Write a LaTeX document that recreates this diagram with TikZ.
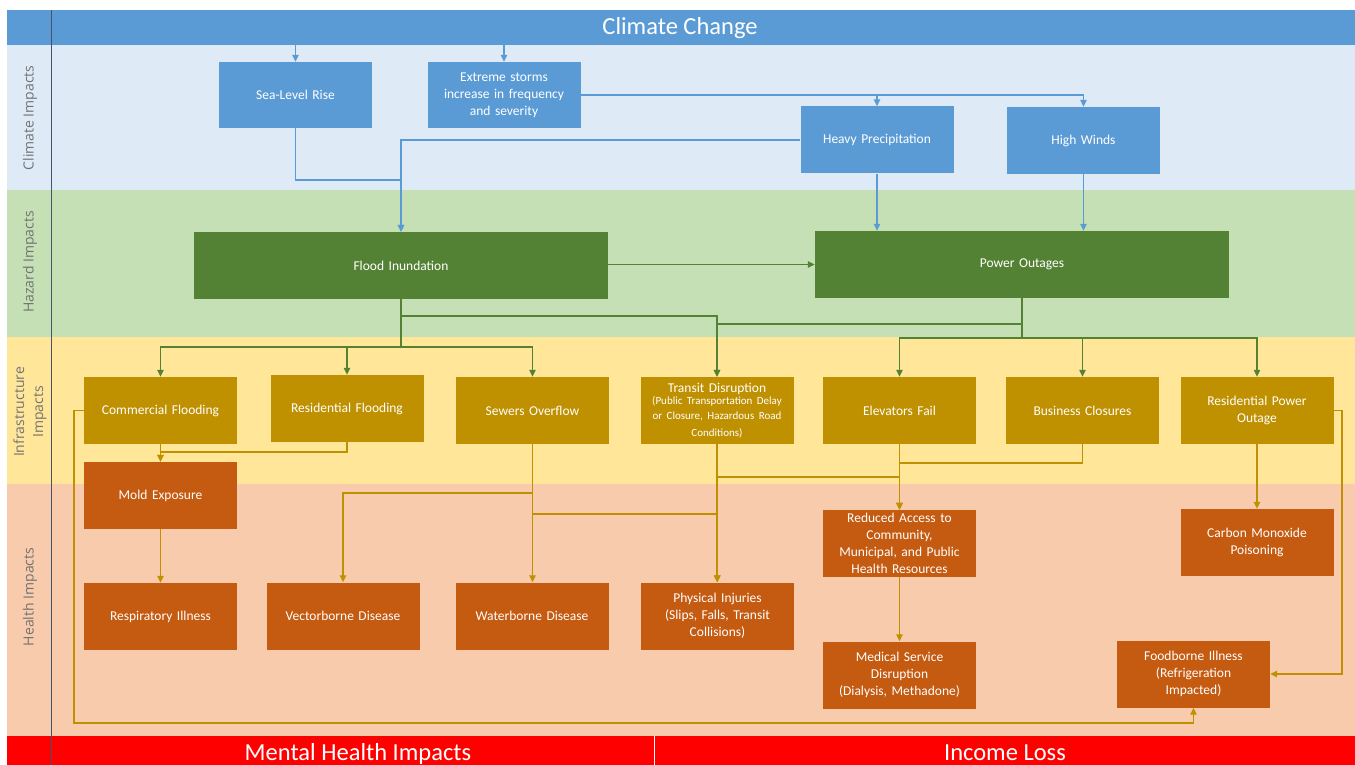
\documentclass[tikz,border=0pt]{standalone}
\usepackage{fontspec}
\setmainfont{Carlito}
\newfontfamily\lanefont{Open Sans}
\usetikzlibrary{arrows.meta}
\definecolor{cblue}{HTML}{5B9BD5}
\definecolor{lclim}{HTML}{DEEBF7}
\definecolor{lhaz}{HTML}{C5E0B4}
\definecolor{linf}{HTML}{FFE699}
\definecolor{lhea}{HTML}{F8CBAD}
\definecolor{cgreen}{HTML}{548235}
\definecolor{cgold}{HTML}{BF9000}
\definecolor{corange}{HTML}{C55A11}
\definecolor{cred}{HTML}{FF0000}
\definecolor{lanegray}{HTML}{737373}
\definecolor{divline}{HTML}{44546A}
\begin{document}
\begin{tikzpicture}[x=1pt,y=-1pt,
  box/.style={rectangle, minimum width=153pt, minimum height=67pt, text width=148pt,
    align=center, text=white, inner sep=0pt, font=\fontsize{13.5}{17}\selectfont},
  bbox/.style={box, fill=cblue},
  gbox/.style={box, fill=cgreen, minimum width=414pt, text width=400pt},
  obox/.style={box, fill=cgold},
  hbox/.style={box, fill=corange},
  tip/.style={-{Triangle[length=7pt,width=6.5pt]}},
  barr/.style={draw=cblue, line width=1.1pt, tip},
  garr/.style={draw=cgreen, line width=1.3pt, tip},
  oarr/.style={draw=cgold, line width=1.2pt, tip},
  lanelab/.style={rotate=90, font=\lanefont\fontsize{14}{19}\selectfont, text=lanegray, align=center, inner sep=0pt},
  bartext/.style={text=white, font=\fontsize{24.5}{28}\selectfont, inner sep=0pt, anchor=base}
]
\useasboundingbox (0,0) rectangle (1355,765);
\clip (0,0) rectangle (1355,765);
\fill[white] (0,0) rectangle (1355,765);
% lanes
\fill[lclim] (7,45) rectangle (1355,190);
\fill[lhaz] (7,190) rectangle (1355,337);
\fill[linf] (7,337) rectangle (1355,484);
\fill[lhea] (7,484) rectangle (1355,736);
\fill[cred] (7,736) rectangle (1355,770);
\draw[white, line width=0.8pt] (654,736) -- (654,770);
% title bar
\node[fill=cblue, minimum width=1348pt, minimum height=35pt, inner sep=0pt] (cc) at (681,27.5) {};
\node[bartext] (cctext) at (680,35) {Climate Change};
\node[bartext] (mh) at (358,760) {Mental Health Impacts};
\node[bartext] (il) at (1005,760) {Income Loss};
\draw[divline, line width=1pt] (51,10) -- (51,765);
% lane labels
\node[lanelab] (l1) at (30,118) {Climate Impacts};
\node[lanelab] (l2) at (30,262) {Hazard Impacts};
\node[lanelab] (l3) at (30,412) {Infrastructure\\Impacts};
\node[lanelab] (l4) at (30,597) {Health Impacts};
% climate impacts
\node[bbox, minimum height=66pt] (slr) at (295.5,95) {Sea-Level Rise};
\node[bbox, minimum height=66pt] (ext) at (504,95) {Extreme storms\\increase in frequency\\and severity};
\node[bbox] (hp) at (877,140) {Heavy Precipitation};
\node[bbox] (hw) at (1083.5,140.5) {High Winds};
% hazard
\node[gbox] (flood) at (401,265.5) {Flood Inundation};
\node[gbox] (po) at (1022,264.5) {Power Outages};
% infrastructure
\node[obox] (comm) at (160.5,410.5) {Commercial Flooding};
\node[obox] (res) at (347,408.5) {Residential Flooding};
\node[obox] (sew) at (532.5,410.5) {Sewers Overflow};
\node[obox] (trans) at (717,410.5) {Transit Disruption\\[-2pt]{\fontsize{11}{14.3}\selectfont (Public Transportation Delay\\or Closure, Hazardous Road\\Conditions)}};
\node[obox] (elev) at (899.5,410.5) {Elevators Fail};
\node[obox] (bus) at (1082.5,410.5) {Business Closures};
\node[obox] (rpo) at (1257,410.5) {Residential Power\\Outage};
% health
\node[hbox] (mold) at (160.5,495.5) {Mold Exposure};
\node[hbox] (resp) at (160.5,616.5) {Respiratory Illness};
\node[hbox] (vec) at (343,616) {Vectorborne Disease};
\node[hbox] (wat) at (532,616) {Waterborne Disease};
\node[hbox] (phys) at (717.5,616) {Physical Injuries\\(Slips, Falls, Transit\\Collisions)};
\node[hbox] (red) at (899.5,543.5) {Reduced Access to\\Community,\\Municipal, and Public\\Health Resources};
\node[hbox] (med) at (899.5,675) {Medical Service\\Disruption\\(Dialysis, Methadone)};
\node[hbox] (co) at (1257,542.5) {Carbon Monoxide\\Poisoning};
\node[hbox] (food) at (1193.5,674) {Foodborne Illness\\(Refrigeration\\Impacted)};
% junction coordinates
\coordinate (s1) at (295.5,180);
\coordinate (f1) at (401,347);
\coordinate (f2) at (401,316);
\coordinate (p1) at (1022,324);
\coordinate (p2) at (1022,338);
\coordinate (r1) at (347,452);
\coordinate (w1) at (532.5,493);
\coordinate (w2) at (532.5,514);
\coordinate (t1) at (717,477);
\coordinate (b1) at (1082.5,463);
\coordinate (rp1) at (1342,410.5);
\coordinate (c1) at (74,410.5);
\coordinate (c2) at (74,723);
% blue connectors
\draw[barr] (slr.north |- cc.south) -- (slr.north);
\draw[barr] (ext.north |- cc.south) -- (ext.north);
\draw[barr] (ext.east) -| (hp.north);
\draw[barr] (ext.east) -| (hw.north);
\draw[barr] (slr.south) -- (s1) -| (flood.north);
\draw[barr] (hp.west) -| (flood.north);
\draw[barr] (hp.south) -- (hp.south |- po.north);
\draw[barr] (hw.south) -- (hw.south |- po.north);
% green connectors
\draw[garr] (flood.east |- po.west) -- (po.west);
\draw[garr] (flood.south) -- (f1) -| (comm.north);
\draw[garr] (flood.south) -- (f1) -| (res.north);
\draw[garr] (flood.south) -- (f1) -| (sew.north);
\draw[garr] (flood.south) -- (f2) -| (trans.north);
\draw[garr] (po.south) -- (p1) -| (trans.north);
\draw[garr] (po.south) -- (p2) -| (elev.north);
\draw[garr] (po.south) -- (p2) -| (bus.north);
\draw[garr] (po.south) -- (p2) -| (rpo.north);
% gold connectors
\draw[oarr] (comm.south) -- (mold.north);
\draw[oarr] (res.south) -- (r1) -| (mold.north);
\draw[oarr] (mold.south) -- (resp.north);
\draw[oarr] (sew.south) -- (sew.south |- wat.north);
\draw[oarr] (sew.south) -- (w1) -| (vec.north);
\draw[oarr] (sew.south) -- (w2) -| (phys.north);
\draw[oarr] (trans.south) -- (trans.south |- phys.north);
\draw[oarr] (trans.south) -- (t1) -| (red.north);
\draw[oarr] (elev.south) -- (red.north);
\draw[oarr] (bus.south) -- (b1) -| (red.north);
\draw[oarr] (red.south) -- (med.north);
\draw[oarr] (rpo.south) -- (co.north);
\draw[oarr] (rpo.east) -- (rp1) |- (food.east);
\draw[oarr] (comm.west) -- (c1) -- (c2) -| (food.south);
\end{tikzpicture}
\end{document}
